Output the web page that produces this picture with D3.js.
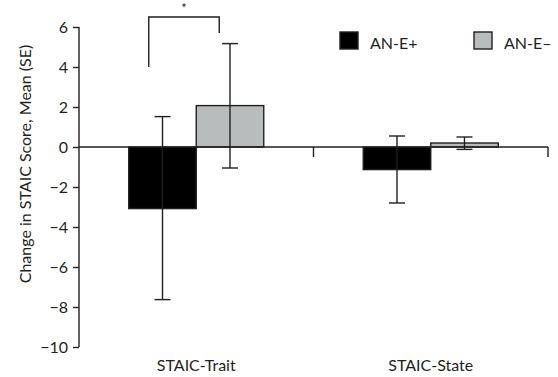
<!DOCTYPE html>
<html>
<head>
<meta charset="utf-8">
<script src="https://cdn.jsdelivr.net/npm/d3@7"></script>
<style>
  html, body { margin: 0; padding: 0; background: #fff; }
  svg { display: block; font-family: Lato, "Open Sans", sans-serif; }
</style>
</head>
<body>
<svg id="chart" width="558" height="377"></svg>
<script>
// Change in STAIC scores by group
const categories = ["STAIC-Trait", "STAIC-State"];
const seriesNames = ["AN-E+", "AN-E\u2013"];
const seriesColors = ["#000000", "#b9bcbc"];
const meanEplus = [-3.08, -1.13];
const meanEminus = [2.07, 0.2];
const errLowEplus = [-7.63, -2.8];
const errHighEplus = [1.52, 0.55];
const errLowEminus = [-1.05, -0.12];
const errHighEminus = [5.17, 0.5];
const yTicks = [6, 4, 2, 0, -2, -4, -6, -8, -10];
const yLabel = "Change in STAIC Score, Mean (SE)";

const ink = "#231f20";
const fontSize = "16px";
const svg = d3.select("#chart");

const x0 = d3.scaleBand().domain(categories).range([79, 548]).paddingInner(0).paddingOuter(0);
const x1 = d3.scaleBand().domain(seriesNames).range([0, x0.bandwidth()]).paddingInner(0).paddingOuter(0.737);
const y = d3.scaleLinear().domain([-10, 6]).range([347, 27]);

const rows = [];
categories.forEach((c, i) => {
  rows.push({ cat: c, s: seriesNames[0], v: meanEplus[i], lo: errLowEplus[i], hi: errHighEplus[i], color: seriesColors[0] });
  rows.push({ cat: c, s: seriesNames[1], v: meanEminus[i], lo: errLowEminus[i], hi: errHighEminus[i], color: seriesColors[1] });
});

// bars
svg.append("g").selectAll("rect").data(rows).join("rect")
  .attr("x", d => x0(d.cat) + x1(d.s))
  .attr("width", x1.bandwidth())
  .attr("y", d => y(Math.max(0, d.v)))
  .attr("height", d => Math.abs(y(d.v) - y(0)))
  .attr("fill", d => d.color)
  .attr("stroke", ink)
  .attr("stroke-width", 1.4);

// error bars
const capHalf = 8;
const eb = svg.append("g").attr("stroke", ink).attr("stroke-width", 1.4).attr("fill", "none");
rows.forEach(d => {
  const cx = x0(d.cat) + x1(d.s) + x1.bandwidth() / 2;
  eb.append("line").attr("x1", cx).attr("x2", cx).attr("y1", y(d.lo)).attr("y2", y(d.hi));
  eb.append("line").attr("x1", cx - capHalf).attr("x2", cx + capHalf).attr("y1", y(d.lo)).attr("y2", y(d.lo));
  eb.append("line").attr("x1", cx - capHalf).attr("x2", cx + capHalf).attr("y1", y(d.hi)).attr("y2", y(d.hi));
});

// y axis
const yAxis = svg.append("g").attr("transform", "translate(79,0)")
  .call(d3.axisLeft(y).tickValues(yTicks).tickSize(6).tickPadding(5)
    .tickFormat(d => d < 0 ? "\u2212" + Math.abs(d) : String(d)));
yAxis.select(".domain").attr("stroke", ink).attr("stroke-width", 1.4).attr("d", `M0,${y(6)}V${y(-10)}`);
yAxis.selectAll(".tick line").attr("stroke", ink).attr("stroke-width", 1.4);
yAxis.selectAll(".tick text").attr("fill", ink).style("font-size", fontSize).style("font-family", "Lato, sans-serif");

// x axis along zero
const xAxis = svg.append("g").attr("transform", `translate(0,${y(0)})`);
xAxis.append("line").attr("x1", 79).attr("x2", 548).attr("y1", 0).attr("y2", 0)
  .attr("stroke", ink).attr("stroke-width", 1.4);
xAxis.selectAll("line.tk").data(categories).join("line").attr("class", "tk")
  .attr("x1", d => x0(d) + x0.bandwidth()).attr("x2", d => x0(d) + x0.bandwidth())
  .attr("y1", 0).attr("y2", 10).attr("stroke", ink).attr("stroke-width", 1.4);

// category labels
svg.append("g").selectAll("text").data(categories).join("text")
  .attr("x", d => x0(d) + x0.bandwidth() / 2)
  .attr("y", 371)
  .attr("text-anchor", "middle")
  .attr("fill", ink)
  .style("font-size", fontSize)
  .text(d => d);

// y label
svg.append("text")
  .attr("transform", `translate(31,${(y(6) + y(-10)) / 2 - 23}) rotate(-90)`)
  .attr("text-anchor", "middle")
  .attr("fill", ink)
  .style("font-size", fontSize)
  .text(yLabel);

// significance bracket
const bx1 = x0(categories[0]) + x1(seriesNames[0]) + 20;
const bx2 = x0(categories[0]) + x1(seriesNames[1]) + 23;
svg.append("path")
  .attr("d", `M${bx1},${y(4)}V${y(6.5)}H${bx2}V${y(5.7)}`)
  .attr("fill", "none").attr("stroke", ink).attr("stroke-width", 1.4);
svg.append("text")
  .attr("x", (bx1 + bx2) / 2).attr("y", 13)
  .attr("text-anchor", "middle").attr("fill", ink)
  .style("font-size", "13px").text("*");

// legend
const legendX = [340, 474];
const lg = svg.append("g");
seriesNames.forEach((s, i) => {
  lg.append("rect").attr("x", legendX[i]).attr("y", 32).attr("width", 18).attr("height", 17)
    .attr("fill", seriesColors[i]).attr("stroke", ink).attr("stroke-width", 1.4);
  lg.append("text").attr("x", legendX[i] + 30).attr("y", 48.5).attr("fill", ink)
    .style("font-size", fontSize).text(s);
});
</script>
</body>
</html>
